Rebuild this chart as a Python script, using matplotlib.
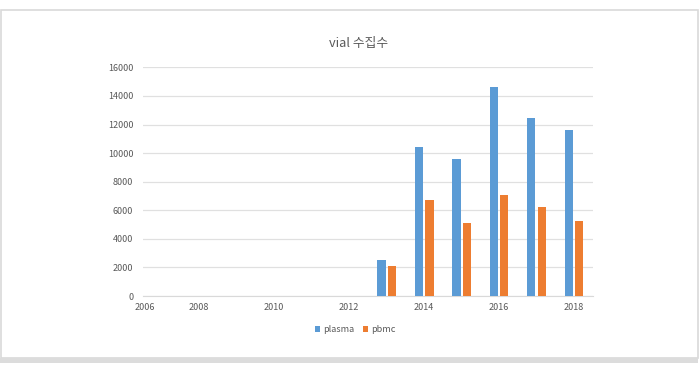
import numpy as np
import matplotlib
matplotlib.use("Agg")
import matplotlib.pyplot as plt
from matplotlib.patches import Rectangle

plt.rcParams['font.family'] = ['Noto Sans CJK KR', 'DejaVu Sans']

years = [2013, 2014, 2015, 2016, 2017, 2018]
plasma = [2520, 10400, 9610, 14640, 12490, 11600]
pbmc = [2120, 6690, 5100, 7090, 6220, 5260]
xtick_pos = [2006.55, 2008, 2010, 2012, 2014, 2016, 2018]
xtick_labels = ['2006', '2008', '2010', '2012', '2014', '2016', '2018']
yticks = np.arange(0, 16001, 2000)

W, H = 699, 372
fig = plt.figure(figsize=(W / 100, H / 100), dpi=100)
fig.patch.set_facecolor('white')

# outer frame + grey shadow strip at the bottom
fig.patches.append(Rectangle((0.5 / W, 1 - 358 / H), 697.5 / W, 348.5 / H,
                             transform=fig.transFigure, fill=False,
                             edgecolor='#d9d9d9', linewidth=1.2))
fig.patches.append(Rectangle((0, 1 - 363 / H), 698 / W, 5 / H,
                             transform=fig.transFigure, facecolor='#dcdcdc',
                             edgecolor='none'))

ax = fig.add_axes([143 / W, 1 - 296 / H, 449.7 / W, 228.6 / H])
x = np.array(years)
w = 0.225
off = 0.14
ax.bar(x - off, plasma, width=w, color='#5B9BD5', label='plasma', zorder=3)
ax.bar(x + off, pbmc, width=w, color='#ED7D31', label='pbmc', zorder=3)

ax.set_xlim(2006.5, 2018.5)
ax.set_ylim(0, 16000)
ax.set_yticks(yticks)
ax.set_yticklabels([str(v) for v in yticks])
ax.set_xticks(xtick_pos)
ax.set_xticklabels(xtick_labels)
ax.grid(axis='y', color='#e0e0e0', linewidth=0.9, zorder=0)
for s in ['top', 'right', 'left']:
    ax.spines[s].set_visible(False)
ax.spines['bottom'].set_color('#d9d9d9')
ax.tick_params(axis='both', length=0, labelsize=6.5, labelcolor='#595959')
ax.tick_params(axis='y', pad=7)
ax.tick_params(axis='x', pad=5)

fig.text(359 / W, 1 - 43 / H, 'vial 수집수', ha='center', va='center',
         fontsize=9.2, color='#595959')

fig.legend(loc='center', bbox_to_anchor=(355 / W, 1 - 330 / H), ncol=2,
           frameon=False, fontsize=6.5, labelcolor='#595959',
           handlelength=0.6, handleheight=0.6, handletextpad=0.3,
           columnspacing=1.0)

fig.savefig('out.png', dpi=100)
